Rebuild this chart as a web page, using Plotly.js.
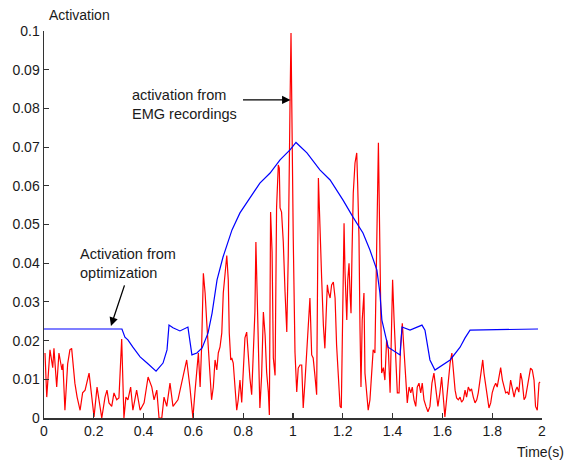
<!DOCTYPE html>
<html>
<head>
<meta charset="utf-8">
<script src="https://cdn.plot.ly/plotly-3.0.1.min.js"></script>
<style>html,body{margin:0;padding:0;background:#fff;}#chart{width:567px;height:464px;}</style>
</head>
<body>
<div id="chart"></div>
<script>
// Activation from optimization (blue)
const optTime = [0, 0.313, 0.325, 0.337, 0.357, 0.386, 0.414, 0.450, 0.478, 0.494, 0.502, 0.518, 0.546, 0.578, 0.594, 0.614, 0.635, 0.659, 0.675, 0.695, 0.719, 0.755, 0.787, 0.827, 0.867, 0.908, 0.948, 0.988, 1.012, 1.056, 1.108, 1.149, 1.201, 1.241, 1.281, 1.309, 1.337, 1.349, 1.357, 1.382, 1.430, 1.438, 1.470, 1.518, 1.530, 1.550, 1.570, 1.631, 1.671, 1.691, 1.711, 1.984];
const optAct = [0.0230, 0.0230, 0.0209, 0.0202, 0.0183, 0.0158, 0.0142, 0.0121, 0.0142, 0.0176, 0.0240, 0.0233, 0.0225, 0.0235, 0.0163, 0.0168, 0.0181, 0.0220, 0.0271, 0.0357, 0.0416, 0.0486, 0.0530, 0.0568, 0.0607, 0.0633, 0.0667, 0.0693, 0.0712, 0.0685, 0.0641, 0.0615, 0.0563, 0.0519, 0.0478, 0.0434, 0.0382, 0.0323, 0.0253, 0.0183, 0.0163, 0.0235, 0.0227, 0.0240, 0.0227, 0.0150, 0.0124, 0.0150, 0.0183, 0.0207, 0.0227, 0.0230];

// Activation from EMG recordings (red)
const emgTime = [0.004, 0.011, 0.024, 0.035, 0.040, 0.051, 0.060, 0.072, 0.076, 0.084, 0.095, 0.104, 0.111, 0.124, 0.133, 0.145, 0.155, 0.165, 0.181, 0.192, 0.201, 0.213, 0.225, 0.232, 0.245, 0.253, 0.261, 0.272, 0.281, 0.292, 0.301, 0.312, 0.321, 0.329, 0.337, 0.348, 0.357, 0.372, 0.386, 0.402, 0.418, 0.433, 0.442, 0.453, 0.462, 0.473, 0.482, 0.493, 0.506, 0.518, 0.538, 0.553, 0.566, 0.573, 0.586, 0.598, 0.606, 0.613, 0.620, 0.627, 0.633, 0.640, 0.647, 0.653, 0.660, 0.667, 0.673, 0.680, 0.687, 0.694, 0.700, 0.707, 0.714, 0.720, 0.727, 0.734, 0.740, 0.744, 0.750, 0.754, 0.760, 0.767, 0.774, 0.780, 0.787, 0.794, 0.800, 0.807, 0.814, 0.820, 0.827, 0.834, 0.841, 0.847, 0.851, 0.857, 0.861, 0.867, 0.874, 0.881, 0.888, 0.894, 0.901, 0.905, 0.910, 0.916, 0.921, 0.928, 0.934, 0.941, 0.945, 0.948, 0.954, 0.961, 0.968, 0.975, 0.981, 0.985, 0.988, 0.992, 0.996, 1.001, 1.008, 1.015, 1.021, 1.028, 1.035, 1.041, 1.048, 1.055, 1.061, 1.068, 1.075, 1.081, 1.088, 1.095, 1.102, 1.108, 1.115, 1.122, 1.128, 1.133, 1.138, 1.142, 1.149, 1.155, 1.162, 1.169, 1.175, 1.182, 1.189, 1.194, 1.200, 1.205, 1.209, 1.216, 1.220, 1.225, 1.229, 1.233, 1.237, 1.242, 1.249, 1.256, 1.260, 1.265, 1.269, 1.273, 1.278, 1.285, 1.289, 1.296, 1.302, 1.309, 1.316, 1.322, 1.329, 1.333, 1.339, 1.343, 1.347, 1.352, 1.356, 1.363, 1.369, 1.376, 1.383, 1.390, 1.396, 1.400, 1.406, 1.412, 1.419, 1.426, 1.432, 1.439, 1.446, 1.453, 1.459, 1.466, 1.473, 1.479, 1.486, 1.493, 1.499, 1.506, 1.513, 1.519, 1.526, 1.534, 1.542, 1.550, 1.558, 1.566, 1.574, 1.582, 1.590, 1.597, 1.610, 1.617, 1.624, 1.631, 1.638, 1.644, 1.651, 1.657, 1.664, 1.671, 1.677, 1.684, 1.691, 1.697, 1.704, 1.711, 1.717, 1.724, 1.731, 1.738, 1.744, 1.751, 1.758, 1.762, 1.767, 1.774, 1.780, 1.787, 1.794, 1.800, 1.807, 1.814, 1.820, 1.827, 1.834, 1.841, 1.847, 1.854, 1.861, 1.867, 1.874, 1.880, 1.888, 1.894, 1.900, 1.907, 1.914, 1.920, 1.928, 1.934, 1.941, 1.948, 1.954, 1.961, 1.968, 1.974, 1.981, 1.988, 1.992];
const emgAct = [0.0168, 0.0054, 0.0176, 0.0130, 0.0180, 0.0080, 0.0168, 0.0124, 0.0140, 0.0020, 0.0140, 0.0176, 0.0180, 0.0090, 0.0054, 0.0020, 0.0065, 0.0072, 0.0116, 0.0047, 0.0003, 0.0080, 0.0030, 0.0000, 0.0054, 0.0072, 0.0039, 0.0030, 0.0065, 0.0047, 0.0052, 0.0204, 0.0000, 0.0054, 0.0047, 0.0080, 0.0020, 0.0072, 0.0020, 0.0039, 0.0106, 0.0080, 0.0047, 0.0072, 0.0000, 0.0000, 0.0054, 0.0030, 0.0090, 0.0030, 0.0047, 0.0090, 0.0130, 0.0150, 0.0080, 0.0000, 0.0065, 0.0130, 0.0168, 0.0080, 0.0184, 0.0374, 0.0323, 0.0253, 0.0184, 0.0116, 0.0047, 0.0080, 0.0150, 0.0124, 0.0168, 0.0184, 0.0220, 0.0323, 0.0374, 0.0420, 0.0357, 0.0220, 0.0150, 0.0155, 0.0142, 0.0072, 0.0020, 0.0047, 0.0098, 0.0040, 0.0137, 0.0207, 0.0222, 0.0155, 0.0103, 0.0060, 0.0155, 0.0274, 0.0455, 0.0260, 0.0170, 0.0026, 0.0110, 0.0274, 0.0214, 0.0119, 0.0067, 0.0008, 0.0532, 0.0429, 0.0155, 0.0110, 0.0543, 0.0654, 0.0646, 0.0543, 0.0532, 0.0455, 0.0326, 0.0222, 0.0420, 0.0809, 0.0809, 0.0995, 0.0739, 0.0465, 0.0170, 0.0067, 0.0129, 0.0137, 0.0137, 0.0026, 0.0093, 0.0163, 0.0240, 0.0310, 0.0163, 0.0155, 0.0110, 0.0060, 0.0620, 0.0480, 0.0362, 0.0240, 0.0180, 0.0266, 0.0344, 0.0326, 0.0310, 0.0344, 0.0351, 0.0310, 0.0189, 0.0110, 0.0030, 0.0026, 0.0374, 0.0503, 0.0374, 0.0253, 0.0357, 0.0400, 0.0323, 0.0271, 0.0426, 0.0581, 0.0659, 0.0685, 0.0597, 0.0468, 0.0235, 0.0080, 0.0253, 0.0323, 0.0116, 0.0054, 0.0020, 0.0047, 0.0130, 0.0176, 0.0168, 0.0374, 0.0555, 0.0711, 0.0545, 0.0339, 0.0116, 0.0130, 0.0098, 0.0202, 0.0176, 0.0065, 0.0305, 0.0357, 0.0253, 0.0150, 0.0065, 0.0065, 0.0184, 0.0245, 0.0168, 0.0106, 0.0039, 0.0080, 0.0065, 0.0080, 0.0047, 0.0030, 0.0080, 0.0090, 0.0065, 0.0090, 0.0047, 0.0030, 0.0016, 0.0030, 0.0090, 0.0116, 0.0065, 0.0030, 0.0065, 0.0106, 0.0003, 0.0054, 0.0106, 0.0142, 0.0168, 0.0116, 0.0072, 0.0052, 0.0047, 0.0054, 0.0041, 0.0047, 0.0072, 0.0054, 0.0080, 0.0070, 0.0075, 0.0054, 0.0039, 0.0047, 0.0065, 0.0098, 0.0130, 0.0150, 0.0116, 0.0080, 0.0047, 0.0026, 0.0039, 0.0065, 0.0080, 0.0090, 0.0080, 0.0106, 0.0130, 0.0098, 0.0080, 0.0065, 0.0067, 0.0060, 0.0098, 0.0080, 0.0054, 0.0072, 0.0080, 0.0067, 0.0116, 0.0098, 0.0047, 0.0054, 0.0080, 0.0116, 0.0129, 0.0124, 0.0098, 0.0030, 0.0020, 0.0090, 0.0093];

const xTicks = [0, 0.2, 0.4, 0.6, 0.8, 1, 1.2, 1.4, 1.6, 1.8, 2];
const yTicks = [0, 0.01, 0.02, 0.03, 0.04, 0.05, 0.06, 0.07, 0.08, 0.09, 0.1];

const font = {family: 'Liberation Sans, Arial, sans-serif', size: 14, color: '#1a1a1a'};
const noteFont = {family: 'Liberation Sans, Arial, sans-serif', size: 14.5, color: '#1a1a1a'};

const traces = [
  {x: emgTime, y: emgAct, type: 'scatter', mode: 'lines', line: {color: '#ff0000', width: 1.2}, hoverinfo: 'none', cliponaxis: false},
  {x: optTime, y: optAct, type: 'scatter', mode: 'lines', line: {color: '#0000ff', width: 1.2}, hoverinfo: 'none'}
];

const axisCommon = {
  showgrid: false, zeroline: false, showline: true, linecolor: '#333', linewidth: 1.5,
  ticks: 'inside', ticklen: 5, tickwidth: 1.2, tickcolor: '#333',
  tickfont: font, mirror: false
};

const layout = {
  width: 567, height: 464,
  margin: {l: 44, r: 25, t: 31, b: 46},
  paper_bgcolor: '#fff', plot_bgcolor: '#fff',
  showlegend: false,
  font: font,
  xaxis: Object.assign({}, axisCommon, {range: [0, 2], tickvals: xTicks, ticktext: xTicks.map(String)}),
  yaxis: Object.assign({}, axisCommon, {range: [0, 0.1], tickvals: yTicks, ticktext: yTicks.map(String)}),
  annotations: [
    {xref: 'paper', yref: 'paper', x: 0.006, y: 1.0, yshift: 16, xanchor: 'left', yanchor: 'middle', text: 'Activation', showarrow: false, font: font},
    {xref: 'paper', yref: 'paper', x: 1.0, y: 0, yshift: -34, xshift: 24, xanchor: 'right', yanchor: 'middle', text: 'Time(s)', showarrow: false, font: font},
    {xref: 'x', yref: 'y', x: 0.345, y: 0.0811, xanchor: 'left', yanchor: 'middle', align: 'left', text: 'activation from<br>EMG recordings', showarrow: false, font: noteFont},
    {xref: 'x', yref: 'y', x: 0.137, y: 0.0398, xanchor: 'left', yanchor: 'middle', align: 'left', text: 'Activation from<br>optimization', showarrow: false, font: noteFont},
    {xref: 'x', yref: 'y', x: 0.990, y: 0.0822, ax: -49, ay: 0, text: '', showarrow: true, arrowhead: 2, arrowsize: 1.3, arrowwidth: 1.3, arrowcolor: '#000'},
    {xref: 'x', yref: 'y', x: 0.269, y: 0.0238, ax: 14, ay: -42, text: '', showarrow: true, arrowhead: 2, arrowsize: 1.3, arrowwidth: 1.3, arrowcolor: '#000'}
  ]
};

Plotly.newPlot('chart', traces, layout, {staticPlot: true, displayModeBar: false});
</script>
</body>
</html>
